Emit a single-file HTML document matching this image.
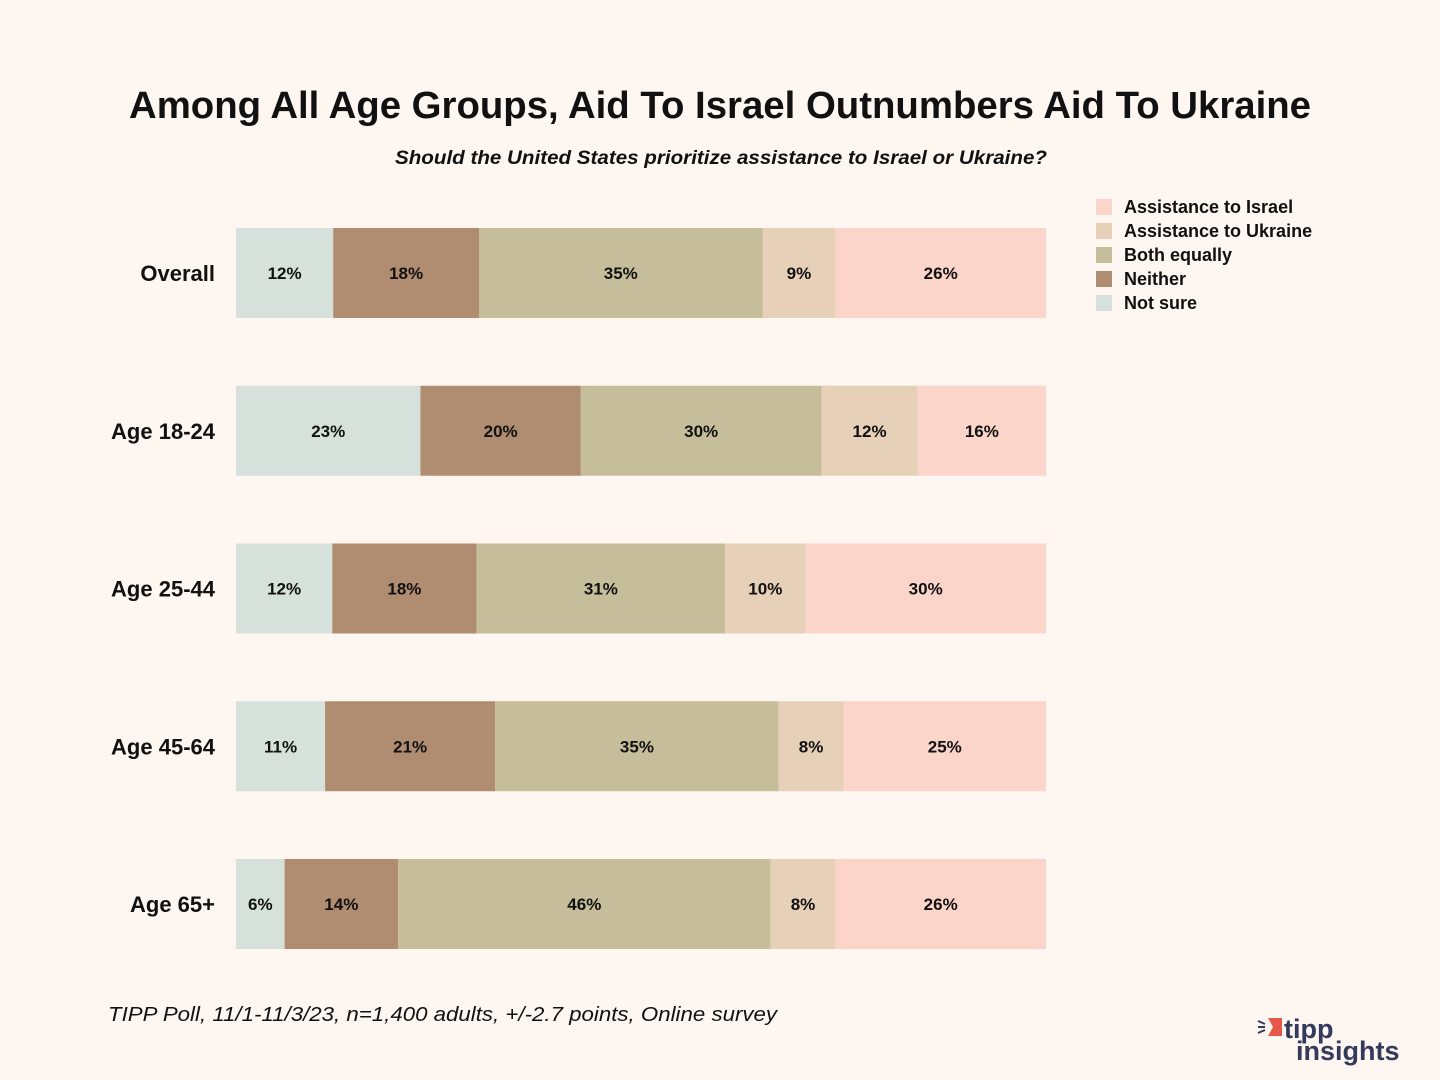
<!DOCTYPE html>
<html><head><meta charset="utf-8"><style>
body{margin:0;background:#fef6f1;}
svg{display:block;font-family:"Liberation Sans","DejaVu Sans",sans-serif;}
</style></head><body>
<svg id="chart" width="1440" height="1080">
<rect width="1440" height="1080" fill="#fef6f1"/>
<text x="129" y="118" textLength="1182" lengthAdjust="spacingAndGlyphs" font-size="38" font-weight="bold" fill="#111">Among All Age Groups, Aid To Israel Outnumbers Aid To Ukraine</text>
<text x="395" y="164" textLength="652" lengthAdjust="spacingAndGlyphs" font-size="19" font-style="italic" font-weight="bold" fill="#111">Should the United States prioritize assistance to Israel or Ukraine?</text>
<g id="bars"></g>
<g id="legend"></g>
<text x="108" y="1021" textLength="669" lengthAdjust="spacingAndGlyphs" font-size="20" font-style="italic" fill="#111">TIPP Poll, 11/1-11/3/23, n=1,400 adults, +/-2.7 points, Online survey</text>
<g>
<polygon points="1268,1018 1282,1018 1282,1036 1268,1036 1273,1027" fill="#e8584a"/>
<line x1="1258" y1="1021" x2="1265" y2="1024" stroke="#333a5c" stroke-width="2"/>
<line x1="1258" y1="1027" x2="1265" y2="1027" stroke="#333a5c" stroke-width="2"/>
<line x1="1258" y1="1033" x2="1265" y2="1030" stroke="#333a5c" stroke-width="2"/>
<text x="1284" y="1038" font-size="27" font-weight="bold" fill="#333a5c">tipp</text>
<text x="1296" y="1060" font-size="27" font-weight="bold" fill="#333a5c">insights</text>
</g>
</svg>
<script>
const categories = ["Overall","Age 18-24","Age 25-44","Age 45-64","Age 65+"];
const seriesNames = ["Not sure","Neither","Both equally","Assistance to Ukraine","Assistance to Israel"];
const notSure = [12,23,12,11,6];
const neither = [18,20,18,21,14];
const bothEqually = [35,30,31,35,46];
const toUkraine = [9,12,10,8,8];
const toIsrael = [26,16,30,25,26];
const series = [notSure,neither,bothEqually,toUkraine,toIsrael];
const colors = ["#d7e1dc","#b08d70","#c6be9a","#e6d0b8","#fbd5ca"];
const NS="http://www.w3.org/2000/svg";
const x0=236, plotW=810, y0=228, step=157.75, barH=90;
function xScale(frac){return x0+frac*plotW;}
function yScale(i){return y0+i*step;}
const g=document.getElementById('bars');
categories.forEach((c,i)=>{
  const total=series.reduce((s,a)=>s+a[i],0);
  let cum=0;
  const lab=document.createElementNS(NS,'text');
  
  
  lab.setAttribute('x',215);lab.setAttribute('y',yScale(i)+barH/2+8);
  lab.setAttribute('text-anchor','end');lab.setAttribute('font-size','22');lab.setAttribute('font-weight','bold');lab.setAttribute('fill','#111');
  lab.textContent=c;g.appendChild(lab);
  series.forEach((arr,k)=>{
    const xa=xScale(cum/total), xb=xScale((cum+arr[i])/total);
    cum+=arr[i];
    const r=document.createElementNS(NS,'rect');
    
    
    r.setAttribute('x',xa);r.setAttribute('y',yScale(i));r.setAttribute('width',xb-xa);r.setAttribute('height',barH);r.setAttribute('fill',colors[k]);
    g.appendChild(r);
    const t=document.createElementNS(NS,'text');
    
    
    t.setAttribute('x',(xa+xb)/2);t.setAttribute('y',yScale(i)+barH/2+6);
    t.setAttribute('text-anchor','middle');t.setAttribute('font-size','17');t.setAttribute('font-weight','bold');t.setAttribute('fill','#111');
    t.textContent=arr[i]+'%';g.appendChild(t);
  });
});
const lg=document.getElementById('legend');
const legendOrder=[4,3,2,1,0];
legendOrder.forEach((k,j)=>{
  const y=199+j*24;
  const r=document.createElementNS(NS,'rect');
  
  
  r.setAttribute('x',1096);r.setAttribute('y',y);r.setAttribute('width',16);r.setAttribute('height',16);r.setAttribute('fill',colors[k]);
  lg.appendChild(r);
  const t=document.createElementNS(NS,'text');
  
  
  t.setAttribute('x',1124);t.setAttribute('y',y+14);t.setAttribute('font-size','18');t.setAttribute('font-weight','bold');t.setAttribute('fill','#111');
  t.textContent=seriesNames[k];lg.appendChild(t);
});
</script>
</body></html>
